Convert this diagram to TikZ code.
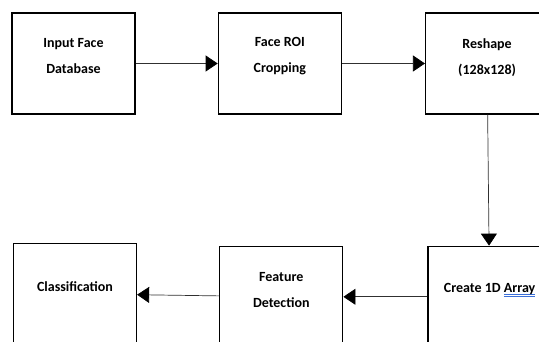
\documentclass[tikz,border=0pt]{standalone}
\usepackage{fontspec}
\setmainfont{Carlito}
\usepackage{xcolor}
\definecolor{boxborder}{HTML}{000000}
\definecolor{arrowcolor}{HTML}{303030}
\definecolor{spellblue}{HTML}{3b6fd8}
\usetikzlibrary{positioning,arrows.meta}
% blue double underline of the spell checker
\newcommand{\spellmark}[1]{\setbox0\hbox{#1}%
  \rlap{\color{spellblue}\rule[-2.6pt]{\wd0}{0.5pt}}%
  \rlap{\color{spellblue}\rule[-4.2pt]{\wd0}{0.5pt}}\box0}
\tikzset{
    box/.style={
        rectangle,
        draw=boxborder,
        minimum width=123pt,
        minimum height=101pt,
        line width=1.3pt,
        inner sep=0pt,
    },
    boxtext/.style={
        align=center,
        font=\fontsize{14}{26}\selectfont\bfseries,
        yshift=7pt,
    },
    flow/.style={
        -{Triangle[length=12pt,width=16pt,color=black]},
        line width=0.7pt,
        arrowcolor,
    },
}
\begin{document}
\begin{tikzpicture}[x=1pt,y=-1pt]
    \useasboundingbox (0,0) rectangle (539,342);
    % top row
    \node[box] (input) at (73.5,63.5) {};
    \node[box, right=82pt of input] (roi) {};
    \node[box, right=83pt of roi] (reshape) {};
    % bottom row
    \node[box, below=131pt of reshape, xshift=2.5pt] (create) {};
    \node[box, left=84pt of create] (feature) {};
    \node[box, left=82pt of feature, yshift=3pt] (classif) {};

    \node[boxtext] (input-txt) at (input) {Input Face\\Database};
    \node[boxtext] (roi-txt) at (roi) {Face ROI\\Cropping};
    \node[boxtext, yshift=-1pt] (reshape-txt) at (reshape) {Reshape\\(128x128)};
    \node[boxtext] (create-txt) at (create) {Create 1D \spellmark{Array}};
    \node[boxtext] (feature-txt) at (feature) {Feature\\Detection};
    \node[boxtext] (classif-txt) at (classif) {Classification};

    \draw[flow] (input) -- (roi);
    \draw[flow] (roi) -- (reshape);
    \draw[flow] (reshape) -- (create);
    \draw[flow] (create) -- (feature);
    \draw[flow] (feature) -- (classif);
\end{tikzpicture}
\end{document}
